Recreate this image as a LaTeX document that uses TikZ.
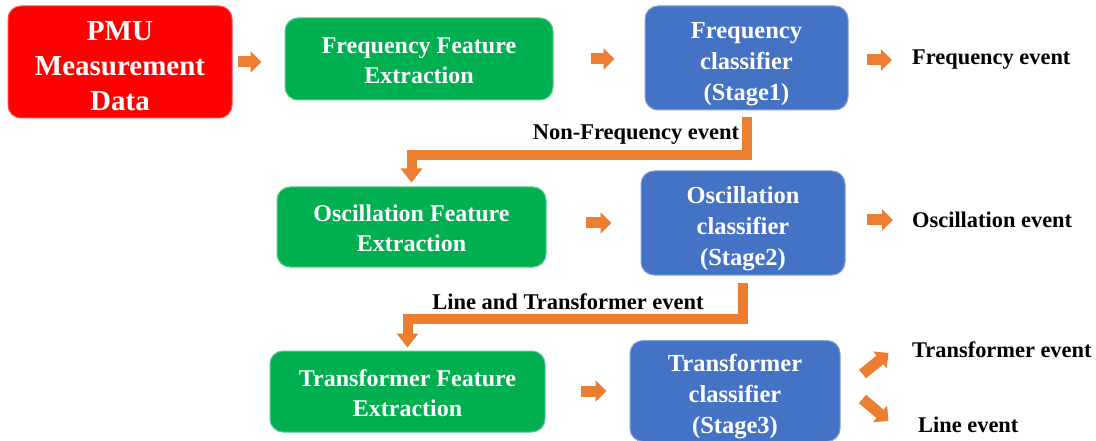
\documentclass[tikz,border=0pt]{standalone}
\usepackage{fontspec}
\setmainfont{Liberation Serif}
\usetikzlibrary{arrows.meta,calc}
\definecolor{pmured}{HTML}{FF0000}
\definecolor{featgreen}{HTML}{00B050}
\definecolor{clsblue}{HTML}{4472C4}
\definecolor{flow}{HTML}{ED7D31}
% zero-width strut that lowers a centred text block a little
\newcommand{\lowerby}[1]{\rule{0pt}{#1}}

\begin{document}
\begin{tikzpicture}[x=1pt,y=-1pt,
  box/.style={rectangle, rounded corners=13pt, text=white, align=center,
    inner sep=0pt, line width=1pt,
    font=\bfseries\fontsize{24}{30}\selectfont},
  source/.style={box, fill=pmured, draw=pmured!70!white,
    font=\bfseries\fontsize{29}{35}\selectfont},
  feat/.style={box, fill=featgreen, draw=featgreen!65!white},
  cls/.style={box, fill=clsblue, draw=clsblue!65!white,
    font=\bfseries\fontsize{24.5}{31}\selectfont},
  evt/.style={anchor=west, inner sep=0pt, font=\bfseries\fontsize{22.4}{26}\selectfont},
  lbl/.style={inner sep=0pt, font=\bfseries\fontsize{22.5}{26}\selectfont},
  hop/.style={draw=flow, line width=11pt, -{Triangle[width=21pt,length=11pt]}},
  route/.style={draw=flow, line width=10pt, line join=miter,
    -{Triangle[width=21pt,length=14pt]}},
]
\useasboundingbox (0,0) rectangle (1096,441);

% processing boxes
\node[source, minimum width=224pt, minimum height=112pt] (pmu) at (120,62)
  {\lowerby{28pt}PMU\\Measurement\\Data};
\node[feat, minimum width=268pt, minimum height=82pt] (ffe) at (419,59)
  {\lowerby{20pt}Frequency Feature\\Extraction};
\node[cls, minimum width=203pt, minimum height=104pt] (fcl) at (746.5,58)
  {\lowerby{29pt}Frequency\\classifier\\(Stage1)};

\node[feat, minimum width=269pt, minimum height=80pt] (ofe) at (411.5,227)
  {\lowerby{20pt}Oscillation Feature\\Extraction};
\node[cls, minimum width=204pt, minimum height=104pt] (ocl) at (743,223)
  {\lowerby{29pt}Oscillation\\classifier\\(Stage2)};

\node[feat, minimum width=275pt, minimum height=81pt] (tfe) at (407.5,391.5)
  {\lowerby{20pt}Transformer Feature\\Extraction};
\node[cls, minimum width=210pt, minimum height=101pt] (tcl) at (735,391)
  {\lowerby{29pt}Transformer\\classifier\\(Stage3)};

% outcomes
\node[evt] (fev) at (912,60) {Frequency event};
\node[evt] (oev) at (912,220) {Oscillation event};
\node[evt] (tev) at (912,350) {Transformer event};
\node[evt] (lev) at (918,425) {Line event};

% short flow arrows
\draw[hop, shorten <=5pt, shorten >=23pt] (pmu.east) -- (pmu.east -| ffe.west);
\draw[hop, shorten <=37pt, shorten >=30pt] (ffe.east) -- (ffe.east -| fcl.west);
\draw[hop, shorten <=18pt, shorten >=20pt] (fcl.east |- fev.west) -- (fev.west);
\draw[hop, shorten <=39pt, shorten >=29pt] (ofe.east |- ocl.west) -- (ocl.west);
\draw[hop, shorten <=21pt, shorten >=19pt] (ocl.east |- oev.west) -- (oev.west);
\draw[hop, shorten <=35pt, shorten >=23pt] (tfe.east |- tcl.west) -- (tcl.west);
\draw[hop] ($(tcl.east)+(22,-17)$) coordinate (tu0) -- ($(tcl.east)+(48,-38)$) coordinate (tu1);
\draw[hop] ($(tcl.east)+(22,8)$) coordinate (td0) -- ($(tcl.east)+(48,30)$) coordinate (td1);

% routing to the next stage
\draw[route, shorten <=7pt, shorten >=4pt] (fcl.south) -- ++(0,45) -| (ofe.north);
\node[lbl] (nfl) at (636,135) {Non-Frequency event};
\draw[route, shorten <=7pt, shorten >=3pt] (ocl.south) -- ++(0,43) -| (tfe.north);
\node[lbl] (ltl) at (568,302) {Line and Transformer event};
\end{tikzpicture}
\end{document}
